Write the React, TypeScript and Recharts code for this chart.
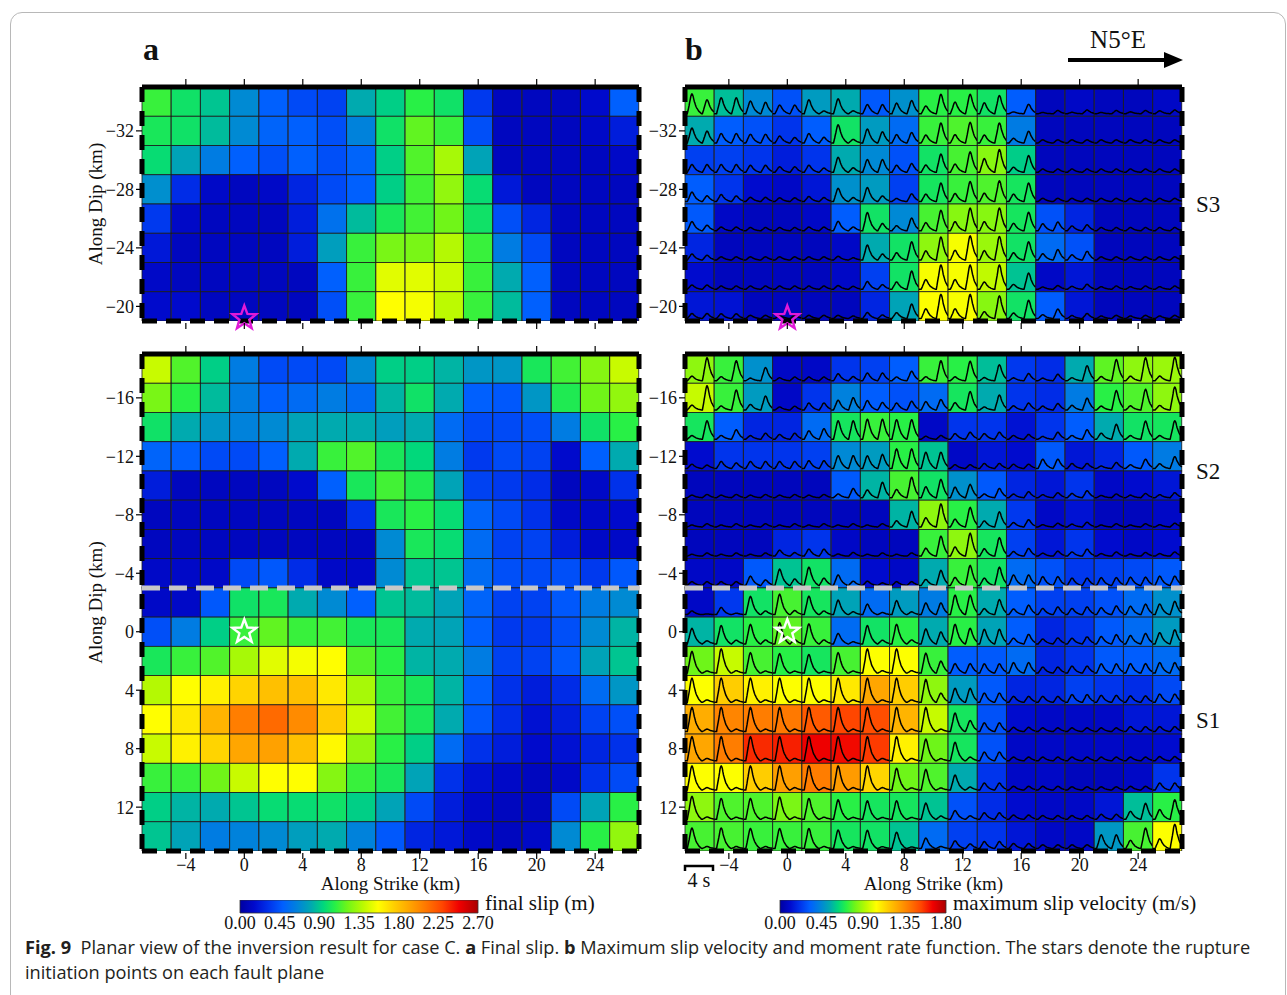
import React from "react";
import {
  Bar,
  BarChart,
  Label,
  ReferenceArea,
  ReferenceDot,
  ReferenceLine,
  XAxis,
  YAxis,
} from "recharts";

const SERIF = "'Liberation Serif', 'Times New Roman', serif";
const SANS = "'Open Sans', 'Noto Sans', sans-serif";

// subfault centres along strike (km), 2 x 2 km cells
const strikeKm = [-6, -4, -2, 0, 2, 4, 6, 8, 10, 12, 14, 16, 18, 20, 22, 24, 26];
const strikeTicks = [-4, 0, 4, 8, 12, 16, 20, 24];

// subfault centres along dip (km), top row first
const dipS3 = [-34, -32, -30, -28, -26, -24, -22, -20];
const dipS21 = [-18, -16, -14, -12, -10, -8, -6, -4, -2, 0, 2, 4, 6, 8, 10, 12, 14];
const dipTicksS3 = [-32, -28, -24, -20];
const dipTicksS21 = [-16, -12, -8, -4, 0, 4, 8, 12];

// final slip (m), segment S3
const slipS3 = [
  [1.11, 1.0, 0.89, 0.68, 0.49, 0.41, 0.38, 0.81, 0.92, 1.08, 1.0, 0.35, 0.11, 0.11, 0.11, 0.16, 0.49],
  [1.03, 1.0, 0.86, 0.68, 0.51, 0.49, 0.43, 0.65, 1.0, 1.19, 1.11, 0.43, 0.11, 0.11, 0.11, 0.14, 0.24],
  [0.97, 0.78, 0.62, 0.49, 0.43, 0.49, 0.43, 0.51, 0.92, 1.16, 1.35, 0.78, 0.11, 0.11, 0.11, 0.11, 0.14],
  [0.7, 0.3, 0.14, 0.11, 0.14, 0.27, 0.41, 0.49, 0.92, 1.13, 1.3, 0.97, 0.22, 0.11, 0.11, 0.11, 0.11],
  [0.35, 0.14, 0.11, 0.11, 0.11, 0.24, 0.57, 0.86, 1.03, 1.13, 1.22, 1.0, 0.43, 0.27, 0.11, 0.11, 0.11],
  [0.22, 0.11, 0.11, 0.11, 0.11, 0.24, 0.76, 1.11, 1.24, 1.24, 1.38, 1.11, 0.62, 0.41, 0.11, 0.11, 0.11],
  [0.14, 0.11, 0.11, 0.11, 0.11, 0.11, 0.49, 1.11, 1.49, 1.49, 1.43, 1.11, 0.81, 0.49, 0.11, 0.11, 0.11],
  [0.16, 0.16, 0.11, 0.11, 0.11, 0.11, 0.43, 1.11, 1.57, 1.54, 1.4, 1.11, 0.86, 0.49, 0.11, 0.11, 0.11],
];

// final slip (m), segments S2 (-18..-4) and S1 (-2..14)
const slipS21 = [
  [1.43, 1.16, 0.92, 0.62, 0.41, 0.41, 0.41, 0.68, 0.92, 0.92, 0.84, 0.73, 0.73, 1.03, 1.13, 1.27, 1.43],
  [1.24, 1.08, 0.86, 0.62, 0.49, 0.54, 0.62, 0.54, 0.84, 1.0, 0.81, 0.49, 0.46, 0.73, 1.05, 1.22, 1.3],
  [1.0, 0.81, 0.73, 0.65, 0.68, 0.78, 0.81, 0.81, 0.76, 0.81, 0.54, 0.41, 0.41, 0.43, 0.62, 1.0, 1.08],
  [0.51, 0.49, 0.41, 0.41, 0.49, 0.81, 1.11, 1.16, 1.03, 0.95, 0.62, 0.35, 0.41, 0.38, 0.16, 0.49, 0.81],
  [0.24, 0.11, 0.11, 0.11, 0.11, 0.16, 0.49, 1.03, 1.13, 1.05, 0.78, 0.38, 0.35, 0.3, 0.11, 0.14, 0.32],
  [0.11, 0.11, 0.11, 0.11, 0.11, 0.11, 0.11, 0.32, 1.03, 1.08, 0.97, 0.51, 0.41, 0.32, 0.14, 0.14, 0.16],
  [0.11, 0.11, 0.11, 0.11, 0.11, 0.11, 0.11, 0.11, 0.68, 1.03, 0.97, 0.54, 0.38, 0.38, 0.24, 0.14, 0.14],
  [0.14, 0.14, 0.14, 0.41, 0.46, 0.3, 0.14, 0.14, 0.68, 0.89, 0.89, 0.54, 0.43, 0.41, 0.43, 0.35, 0.46],
  [0.14, 0.14, 0.46, 1.0, 1.03, 0.81, 0.68, 0.49, 0.89, 0.86, 0.78, 0.51, 0.38, 0.38, 0.46, 0.62, 0.68],
  [0.43, 0.62, 0.92, 1.11, 1.19, 1.11, 1.13, 1.03, 1.03, 0.81, 0.78, 0.49, 0.35, 0.35, 0.43, 0.68, 0.84],
  [1.03, 1.11, 1.16, 1.35, 1.49, 1.54, 1.57, 1.16, 1.08, 0.84, 0.81, 0.62, 0.38, 0.38, 0.46, 0.78, 0.89],
  [1.38, 1.57, 1.62, 1.73, 1.81, 1.81, 1.65, 1.35, 1.11, 1.03, 0.84, 0.49, 0.32, 0.24, 0.3, 0.54, 0.73],
  [1.57, 1.65, 1.86, 2.08, 2.16, 2.03, 1.76, 1.43, 1.13, 1.03, 0.81, 0.46, 0.3, 0.19, 0.24, 0.38, 0.43],
  [1.43, 1.62, 1.73, 1.92, 1.94, 1.81, 1.59, 1.3, 1.08, 0.92, 0.54, 0.32, 0.24, 0.16, 0.19, 0.27, 0.32],
  [1.11, 1.11, 1.22, 1.43, 1.57, 1.57, 1.27, 1.11, 1.03, 0.78, 0.32, 0.19, 0.14, 0.11, 0.14, 0.32, 0.41],
  [0.92, 0.84, 0.81, 0.89, 0.97, 0.97, 1.0, 0.92, 0.78, 0.41, 0.24, 0.14, 0.11, 0.11, 0.41, 0.78, 1.08],
  [0.89, 0.78, 0.62, 0.65, 0.68, 0.76, 0.81, 0.65, 0.46, 0.27, 0.22, 0.14, 0.11, 0.14, 0.68, 1.08, 1.3],
];

// maximum slip velocity (m/s), segment S3
const velS3 = [
  [0.74, 0.58, 0.45, 0.29, 0.5, 0.54, 0.31, 0.47, 0.72, 0.72, 0.67, 0.32, 0.07, 0.09, 0.07, 0.07, 0.09],
  [0.54, 0.32, 0.29, 0.22, 0.32, 0.67, 0.5, 0.36, 0.74, 0.77, 0.74, 0.41, 0.07, 0.07, 0.07, 0.07, 0.07],
  [0.25, 0.25, 0.22, 0.16, 0.22, 0.54, 0.45, 0.29, 0.67, 0.76, 0.85, 0.61, 0.07, 0.07, 0.07, 0.07, 0.07],
  [0.32, 0.22, 0.11, 0.09, 0.14, 0.47, 0.5, 0.25, 0.68, 0.74, 0.77, 0.68, 0.07, 0.07, 0.07, 0.07, 0.07],
  [0.31, 0.09, 0.07, 0.07, 0.09, 0.32, 0.67, 0.45, 0.76, 0.85, 0.85, 0.68, 0.29, 0.18, 0.07, 0.07, 0.07],
  [0.18, 0.07, 0.07, 0.07, 0.07, 0.09, 0.54, 0.67, 0.86, 1.03, 0.88, 0.67, 0.36, 0.29, 0.07, 0.07, 0.07],
  [0.11, 0.07, 0.07, 0.07, 0.07, 0.09, 0.25, 0.67, 1.03, 1.03, 0.94, 0.59, 0.09, 0.14, 0.07, 0.07, 0.07],
  [0.14, 0.13, 0.07, 0.07, 0.07, 0.07, 0.18, 0.52, 1.04, 1.03, 0.85, 0.67, 0.32, 0.14, 0.07, 0.07, 0.07],
];

// maximum slip velocity (m/s), segments S2 and S1
const velS21 = [
  [0.86, 0.74, 0.47, 0.09, 0.09, 0.22, 0.25, 0.32, 0.74, 0.72, 0.58, 0.23, 0.2, 0.54, 0.79, 0.86, 0.88],
  [0.95, 0.74, 0.5, 0.09, 0.22, 0.43, 0.32, 0.29, 0.36, 0.68, 0.54, 0.22, 0.2, 0.41, 0.72, 0.77, 0.86],
  [0.68, 0.32, 0.18, 0.18, 0.36, 0.68, 0.74, 0.72, 0.09, 0.22, 0.22, 0.13, 0.22, 0.32, 0.54, 0.67, 0.68],
  [0.11, 0.22, 0.22, 0.22, 0.25, 0.45, 0.5, 0.72, 0.59, 0.09, 0.14, 0.11, 0.31, 0.14, 0.18, 0.31, 0.41],
  [0.07, 0.07, 0.07, 0.07, 0.07, 0.31, 0.56, 0.76, 0.67, 0.47, 0.31, 0.18, 0.14, 0.22, 0.09, 0.11, 0.14],
  [0.07, 0.07, 0.07, 0.07, 0.07, 0.07, 0.07, 0.56, 0.86, 0.72, 0.54, 0.23, 0.09, 0.13, 0.07, 0.07, 0.09],
  [0.07, 0.07, 0.07, 0.18, 0.22, 0.09, 0.07, 0.07, 0.74, 0.86, 0.68, 0.25, 0.14, 0.22, 0.11, 0.09, 0.11],
  [0.09, 0.09, 0.31, 0.59, 0.67, 0.36, 0.11, 0.09, 0.54, 0.74, 0.67, 0.36, 0.29, 0.23, 0.25, 0.27, 0.31],
  [0.09, 0.23, 0.67, 0.76, 0.68, 0.52, 0.36, 0.5, 0.41, 0.72, 0.54, 0.32, 0.25, 0.25, 0.29, 0.36, 0.47],
  [0.56, 0.67, 0.72, 0.79, 0.74, 0.36, 0.67, 0.72, 0.54, 0.72, 0.52, 0.32, 0.18, 0.22, 0.31, 0.36, 0.5],
  [0.81, 0.95, 0.76, 0.72, 0.68, 0.76, 1.04, 1.04, 0.74, 0.32, 0.31, 0.36, 0.18, 0.22, 0.31, 0.32, 0.36],
  [1.04, 1.17, 1.08, 1.04, 1.04, 1.1, 1.28, 1.17, 0.86, 0.5, 0.31, 0.18, 0.18, 0.25, 0.22, 0.2, 0.27],
  [1.26, 1.37, 1.39, 1.4, 1.48, 1.53, 1.51, 1.24, 0.95, 0.68, 0.29, 0.11, 0.09, 0.09, 0.09, 0.14, 0.14],
  [1.28, 1.39, 1.58, 1.6, 1.66, 1.64, 1.55, 1.08, 0.81, 0.68, 0.29, 0.09, 0.09, 0.09, 0.09, 0.09, 0.11],
  [1.04, 1.04, 1.17, 1.3, 1.39, 1.31, 1.15, 0.81, 0.77, 0.54, 0.22, 0.09, 0.09, 0.07, 0.07, 0.09, 0.22],
  [0.86, 0.77, 0.77, 0.83, 0.77, 0.72, 0.68, 0.68, 0.59, 0.29, 0.2, 0.11, 0.09, 0.09, 0.14, 0.58, 0.72],
  [0.76, 0.76, 0.74, 0.74, 0.74, 0.68, 0.67, 0.59, 0.36, 0.25, 0.22, 0.14, 0.09, 0.09, 0.49, 0.76, 1.04],
];

// share of the moment rate released in the late half of each subfault window (0 = early pulse only)
const lateS3 = [
  [0.35, 0.5, 0.45, 0.5, 0.1, 0.1, 0.5, 0.6, 0.8, 0.7, 0.7, 0.9, 0.8, 0.8, 0.8, 0.7, 0.6],
  [0.4, 0.5, 0.5, 0.4, 0.3, 0.1, 0.4, 0.6, 0.8, 0.8, 0.8, 0.8, 0.5, 0.5, 0.5, 0.5, 0.5],
  [0.5, 0.5, 0.5, 0.5, 0.3, 0.15, 0.5, 0.6, 0.8, 0.8, 0.7, 0.85, 0.5, 0.5, 0.5, 0.5, 0.5],
  [0.3, 0.4, 0.5, 0.5, 0.4, 0.15, 0.2, 0.8, 0.8, 0.8, 0.8, 0.8, 0.5, 0.5, 0.5, 0.5, 0.5],
  [0.3, 0.5, 0.5, 0.5, 0.5, 0.2, 0.2, 0.8, 0.8, 0.8, 0.8, 0.8, 0.6, 0.6, 0.5, 0.5, 0.5],
  [0.4, 0.5, 0.5, 0.5, 0.5, 0.3, 0.2, 0.8, 0.8, 0.8, 0.8, 0.8, 0.7, 0.7, 0.5, 0.5, 0.5],
  [0.5, 0.5, 0.5, 0.5, 0.5, 0.4, 0.3, 0.8, 0.8, 0.8, 0.85, 0.85, 0.7, 0.7, 0.6, 0.6, 0.6],
  [0.5, 0.5, 0.5, 0.5, 0.5, 0.4, 0.3, 0.8, 0.8, 0.8, 0.85, 0.85, 0.8, 0.7, 0.6, 0.6, 0.6],
];

const lateS21 = [
  [0.9, 0.9, 0.9, 0.6, 0.5, 0.3, 0.5, 0.8, 0.9, 0.9, 0.9, 0.8, 0.8, 0.9, 0.9, 0.9, 0.9],
  [0.9, 0.9, 0.8, 0.6, 0.5, 0.6, 0.4, 0.6, 0.6, 0.8, 0.9, 0.7, 0.7, 0.8, 0.9, 0.9, 0.9],
  [0.9, 0.8, 0.7, 0.6, 0.6, 0.5, 0.5, 0.5, 0.6, 0.6, 0.6, 0.6, 0.8, 0.8, 0.8, 0.9, 0.9],
  [0.4, 0.4, 0.5, 0.5, 0.5, 0.5, 0.55, 0.5, 0.5, 0.5, 0.5, 0.5, 0.5, 0.5, 0.8, 0.8, 0.8],
  [0.6, 0.6, 0.6, 0.6, 0.6, 0.8, 0.75, 0.8, 0.7, 0.6, 0.8, 0.7, 0.7, 0.7, 0.7, 0.7, 0.7],
  [0.7, 0.7, 0.7, 0.7, 0.7, 0.7, 0.7, 0.8, 0.8, 0.8, 0.8, 0.7, 0.7, 0.7, 0.7, 0.7, 0.7],
  [0.7, 0.7, 0.7, 0.3, 0.5, 0.7, 0.7, 0.7, 0.8, 0.8, 0.8, 0.7, 0.7, 0.7, 0.7, 0.7, 0.7],
  [0.5, 0.5, 0.3, 0.2, 0.2, 0.2, 0.3, 0.5, 0.8, 0.8, 0.8, 0.5, 0.5, 0.5, 0.5, 0.5, 0.5],
  [0.1, 0.1, 0.1, 0.1, 0.1, 0.1, 0.1, 0.1, 0.5, 0.5, 0.8, 0.7, 0.6, 0.6, 0.6, 0.6, 0.6],
  [0.1, 0.1, 0.1, 0.1, 0.1, 0.1, 0.1, 0.1, 0.4, 0.4, 0.5, 0.7, 0.6, 0.6, 0.6, 0.6, 0.6],
  [0.05, 0.05, 0.05, 0.05, 0.05, 0.05, 0.05, 0.05, 0.3, 0.5, 0.5, 0.5, 0.5, 0.5, 0.5, 0.5, 0.5],
  [0.05, 0.05, 0.05, 0.05, 0.05, 0.05, 0.05, 0.05, 0.2, 0.5, 0.5, 0.5, 0.5, 0.5, 0.5, 0.5, 0.5],
  [0.05, 0.05, 0.05, 0.05, 0.05, 0.05, 0.05, 0.05, 0.05, 0.3, 0.5, 0.5, 0.5, 0.5, 0.5, 0.5, 0.5],
  [0.05, 0.05, 0.05, 0.05, 0.05, 0.05, 0.05, 0.05, 0.05, 0.1, 0.5, 0.5, 0.5, 0.5, 0.5, 0.5, 0.5],
  [0.05, 0.05, 0.05, 0.05, 0.05, 0.05, 0.05, 0.05, 0.05, 0.1, 0.5, 0.5, 0.5, 0.5, 0.5, 0.5, 0.5],
  [0.05, 0.05, 0.05, 0.05, 0.05, 0.05, 0.05, 0.05, 0.1, 0.2, 0.5, 0.5, 0.5, 0.5, 0.5, 0.75, 0.75],
  [0.05, 0.05, 0.05, 0.05, 0.05, 0.05, 0.05, 0.05, 0.1, 0.3, 0.5, 0.5, 0.5, 0.5, 0.5, 0.8, 0.8],
];

const slipMax = 2.7;
const velMax = 1.8;
const slipTicks = [0, 0.45, 0.9, 1.35, 1.8, 2.25, 2.7];
const velTicks = [0, 0.45, 0.9, 1.35, 1.8];

// rainbow palette used by both colour scales
const COLOR_STOPS: [number, number, number, number][] = [
  [0.0, 0, 0, 160],
  [0.06, 0, 10, 205],
  [0.12, 0, 50, 235],
  [0.18, 0, 95, 255],
  [0.24, 0, 130, 220],
  [0.3, 0, 170, 175],
  [0.35, 0, 215, 125],
  [0.4, 40, 240, 70],
  [0.45, 110, 245, 25],
  [0.52, 190, 250, 0],
  [0.58, 255, 255, 0],
  [0.65, 255, 205, 0],
  [0.72, 255, 160, 0],
  [0.78, 255, 120, 0],
  [0.85, 255, 70, 0],
  [0.92, 240, 0, 0],
  [1.0, 170, 0, 0],
];

function colormap(t: number): string {
  const v = Math.max(0, Math.min(1, t));
  for (let i = 1; i < COLOR_STOPS.length; i++) {
    const [t1, r1, g1, b1] = COLOR_STOPS[i];
    if (v <= t1) {
      const [t0, r0, g0, b0] = COLOR_STOPS[i - 1];
      const k = (v - t0) / (t1 - t0);
      return `rgb(${Math.round(r0 + (r1 - r0) * k)},${Math.round(g0 + (g1 - g0) * k)},${Math.round(b0 + (b1 - b0) * k)})`;
    }
  }
  return "rgb(170,0,0)";
}

const minus = (v: number) => (v < 0 ? `\u2212${Math.abs(v)}` : `${v}`);

function starPath(cx: number, cy: number, R: number, r: number) {
  const pts: string[] = [];
  for (let i = 0; i < 10; i++) {
    const ang = -Math.PI / 2 + (i * Math.PI) / 5;
    const rad = i % 2 === 0 ? R : r;
    pts.push(`${(cx + rad * Math.cos(ang)).toFixed(1)},${(cy + rad * Math.sin(ang)).toFixed(1)}`);
  }
  return `M${pts.join("L")}Z`;
}

// glyph of one moment-rate pulse: (offset in cell widths, relative height)
const PULSE: [number, number][] = [
  [-0.16, 0],
  [-0.08, 0.55],
  [-0.03, 0.94],
  [0, 1],
  [0.03, 0.94],
  [0.08, 0.62],
  [0.15, 0.32],
  [0.24, 0.12],
  [0.33, 0],
];

function pulse(u: number) {
  if (u <= PULSE[0][0] || u >= PULSE[PULSE.length - 1][0]) return 0;
  for (let i = 1; i < PULSE.length; i++) {
    const [u1, a1] = PULSE[i];
    const [u0, a0] = PULSE[i - 1];
    if (u <= u1) return a0 + ((a1 - a0) * (u - u0)) / (u1 - u0);
  }
  return 0;
}

function wavePath(x: number, w: number, yBase: number, aE: number, aL: number) {
  const n = 50;
  let d = "";
  for (let i = 0; i <= n; i++) {
    const u = i / n;
    const val = aE * pulse(u - 0.24) + aL * pulse(u - 0.76);
    d += `${i === 0 ? "M" : "L"}${(x + u * w).toFixed(1)},${(yBase - val).toFixed(1)}`;
  }
  return d;
}

const PLOT_W = 497;
const KM_PX = PLOT_W / 34;
const Y_W = 60;
const R_W = 10;
const R_M = 50;
const TOP_H = 10;

const frameDash = { stroke: "#000", strokeWidth: 5, strokeDasharray: "15 9" };

function strikeTick(labels: boolean, up: boolean) {
  return (props: any) => {
    const { x, y, payload } = props;
    if (!strikeTicks.includes(payload.value)) return <g />;
    return (
      <g>
        <line x1={x} x2={x} y1={up ? y - 2 : y + 2} y2={up ? y - 8 : y + 8} stroke="#000" strokeWidth={1.2} />
        {labels && (
          <text x={x} y={y + 20} textAnchor="middle" fontFamily={SERIF} fontSize={18} fill="#111">
            {minus(payload.value)}
          </text>
        )}
      </g>
    );
  };
}

type PanelProps = {
  left: number;
  top: number;
  rows: number[];
  edgeTop: number;
  edgeBottom: number;
  dipTicks: number[];
  values: number[][];
  vmax: number;
  late?: number[][];
  starY: number;
  starColor: string;
  divider?: number;
  segments?: { y1: number; y2: number; name: string }[];
  xLabels: boolean;
  yLabel: boolean;
};

function FaultPanel(p: PanelProps) {
  const plotH = Math.round((p.edgeBottom - p.edgeTop) * KM_PX);
  const bottomH = p.xLabels ? 45 : 30;
  const width = Y_W + PLOT_W + R_W + R_M;
  const height = TOP_H + plotH + bottomH;
  const data = strikeKm.map((x) => {
    const d: Record<string, number> = { x, base: p.edgeTop };
    p.rows.forEach((_, r) => {
      d[`r${r}`] = 2;
    });
    return d;
  });

  const cellShape = (r: number) => (props: any) => {
    const { x, y, width: w, height: h0, payload } = props;
    const c = strikeKm.indexOf(payload.x);
    const v = p.values[r][c];
    const top = Math.min(y, y + h0);
    const h = Math.abs(h0);
    let wave = null;
    if (p.late) {
      const f = p.late[r][c];
      const amp = Math.min(h - 5, 1.5 + 25 * v);
      const aE = amp * Math.min(1, 2 * (1 - f));
      const aL = amp * Math.min(1, 2 * f);
      wave = (
        <path
          d={wavePath(x, w, top + h - 2.5, aE, aL)}
          fill="none"
          stroke="#000"
          strokeWidth={1.5}
          strokeLinejoin="round"
        />
      );
    }
    return (
      <g>
        <rect x={x} y={top} width={w} height={h} fill={colormap(v / p.vmax)} stroke="#1a1a1a" strokeWidth={0.8} />
        {wave}
      </g>
    );
  };

  return (
    <div style={{ position: "absolute", left: p.left, top: p.top }}>
      <BarChart
        width={width}
        height={height}
        data={data}
        margin={{ top: 0, right: R_M, bottom: 0, left: 0 }}
        barCategoryGap={0}
        barGap={0}
      >
        <Bar dataKey="base" stackId="s" xAxisId="b" yAxisId="l" fill="none" isAnimationActive={false} shape={() => <g />} />
        {p.rows.map((_, r) => (
          <Bar
            key={r}
            dataKey={`r${r}`}
            stackId="s"
            xAxisId="b"
            yAxisId="l"
            isAnimationActive={false}
            shape={cellShape(r)}
          />
        ))}
        {p.divider !== undefined && (
          <ReferenceLine
            y={p.divider}
            xAxisId="b"
            yAxisId="l"
            stroke="#c8c8c8"
            strokeWidth={5}
            strokeDasharray="18 9"
          />
        )}
        {p.segments?.map((s) => (
          <ReferenceArea
            key={s.name}
            y1={s.y1}
            y2={s.y2}
            xAxisId="b"
            yAxisId="l"
            fill="none"
            fillOpacity={0}
            stroke="none"
            ifOverflow="visible"
            label={{ value: s.name, position: "right", offset: 14, fontSize: 23, fontFamily: SERIF, fill: "#111" }}
          />
        ))}
        <ReferenceDot
          x={0}
          y={p.starY}
          xAxisId="b"
          yAxisId="l"
          ifOverflow="visible"
          shape={(s: any) => (
            <path d={starPath(s.cx, s.cy, 12.5, 5.2)} fill="none" stroke={p.starColor} strokeWidth={2.4} />
          )}
        />
        <XAxis
          xAxisId="b"
          dataKey="x"
          type="category"
          interval={0}
          height={bottomH}
          tickSize={0}
          tickMargin={0}
          tickLine={false}
          axisLine={frameDash}
          tick={strikeTick(p.xLabels, false)}
          label={
            p.xLabels ? (
              <Label
                content={({ viewBox }: any) => (
                  <text
                    x={viewBox.x + viewBox.width / 2}
                    y={viewBox.y + 39}
                    textAnchor="middle"
                    fontFamily={SERIF}
                    fontSize={19}
                    fill="#111"
                  >
                    Along Strike (km)
                  </text>
                )}
              />
            ) : undefined
          }
        />
        <XAxis
          xAxisId="t"
          dataKey="x"
          type="category"
          orientation="top"
          interval={0}
          height={TOP_H}
          tickSize={0}
          tickMargin={0}
          tickLine={false}
          axisLine={{ stroke: "#000", strokeWidth: 5 }}
          tick={strikeTick(false, true)}
        />
        <YAxis
          yAxisId="l"
          type="number"
          domain={[p.edgeTop, p.edgeBottom]}
          allowDataOverflow
          reversed
          ticks={p.dipTicks}
          interval={0}
          width={Y_W}
          tickSize={6}
          tickMargin={2}
          tickLine={{ stroke: "#000", strokeWidth: 1.2 }}
          axisLine={frameDash}
          tickFormatter={minus}
          tick={{ fontFamily: SERIF, fontSize: 18, fill: "#111" }}
          label={
            p.yLabel ? (
              <Label
                content={({ viewBox }: any) => {
                  const cx = viewBox.x + 13;
                  const cy = viewBox.y + viewBox.height / 2;
                  return (
                    <text
                      x={cx}
                      y={cy}
                      transform={`rotate(-90 ${cx} ${cy})`}
                      textAnchor="middle"
                      dominantBaseline="central"
                      fontFamily={SERIF}
                      fontSize={19}
                      fill="#111"
                    >
                      Along Dip (km)
                    </text>
                  );
                }}
              />
            ) : undefined
          }
        />
        <YAxis
          yAxisId="r"
          orientation="right"
          type="number"
          domain={[p.edgeTop, p.edgeBottom]}
          allowDataOverflow
          reversed
          ticks={p.dipTicks}
          interval={0}
          width={R_W}
          tickSize={6}
          tick={false}
          tickLine={{ stroke: "#000", strokeWidth: 1.2 }}
          axisLine={frameDash}
        />
      </BarChart>
    </div>
  );
}

function ColorBar(props: { left: number; top: number; width: number; vmax: number; ticks: number[]; id: string }) {
  const data = [{ name: props.id, value: props.vmax }];
  return (
    <div style={{ position: "absolute", left: props.left - 20, top: props.top }}>
      <BarChart
        width={props.width + 40}
        height={40}
        data={data}
        layout="vertical"
        margin={{ top: 0, right: 20, bottom: 0, left: 20 }}
        barCategoryGap={0}
      >
        <defs>
          <linearGradient id={props.id} x1="0" y1="0" x2="1" y2="0">
            {COLOR_STOPS.map(([t, r, g, b]) => (
              <stop key={t} offset={`${t * 100}%`} stopColor={`rgb(${r},${g},${b})`} />
            ))}
          </linearGradient>
        </defs>
        <XAxis
          type="number"
          domain={[0, props.vmax]}
          ticks={props.ticks}
          interval={0}
          tickFormatter={(v: number) => v.toFixed(2)}
          axisLine={false}
          tickLine={false}
          tickSize={0}
          tickMargin={3}
          height={27}
          tick={{ fontFamily: SERIF, fontSize: 18, fill: "#111" }}
        />
        <YAxis type="category" dataKey="name" hide />
        <Bar dataKey="value" fill={`url(#${props.id})`} stroke="#333" strokeWidth={0.8} isAnimationActive={false} />
      </BarChart>
    </div>
  );
}

const textStyle = (left: number, top: number, size: number): React.CSSProperties => ({
  position: "absolute",
  left,
  top,
  fontFamily: SERIF,
  fontSize: size,
  lineHeight: 1,
  color: "#111",
  whiteSpace: "nowrap",
});

export default function App() {
  return (
    <div style={{ position: "absolute", left: 0, top: 0, width: 1287, height: 995, background: "#fff", overflow: "hidden" }}>
      <div
        style={{
          position: "absolute",
          left: 10,
          top: 12,
          width: 1274,
          height: 1000,
          border: "1px solid #b8b8b8",
          borderRadius: 12,
        }}
      />
      <svg width={1287} height={90} style={{ position: "absolute", left: 0, top: 0 }}>
        <text x={143} y={60} fontFamily={SERIF} fontWeight="bold" fontSize={32} fill="#111">
          a
        </text>
        <text x={685} y={60} fontFamily={SERIF} fontWeight="bold" fontSize={32} fill="#111">
          b
        </text>
        <text x={1118} y={48} textAnchor="middle" fontFamily={SERIF} fontSize={25} fill="#111">
          N5°E
        </text>
        <line x1={1068} x2={1168} y1={60} y2={60} stroke="#000" strokeWidth={4} />
        <path d="M1164,52 L1183,60 L1164,68 Z" fill="#000" />
      </svg>

      <FaultPanel
        left={82}
        top={77}
        rows={dipS3}
        edgeTop={-35}
        edgeBottom={-19}
        dipTicks={dipTicksS3}
        values={slipS3}
        vmax={slipMax}
        starY={-19.2}
        starColor="#e01ad8"
        xLabels={false}
        yLabel
      />
      <FaultPanel
        left={82}
        top={344}
        rows={dipS21}
        edgeTop={-19}
        edgeBottom={15}
        dipTicks={dipTicksS21}
        values={slipS21}
        vmax={slipMax}
        starY={0}
        starColor="#ffffff"
        divider={-3}
        xLabels
        yLabel
      />
      <FaultPanel
        left={625}
        top={77}
        rows={dipS3}
        edgeTop={-35}
        edgeBottom={-19}
        dipTicks={dipTicksS3}
        values={velS3}
        vmax={velMax}
        late={lateS3}
        starY={-19.2}
        starColor="#e01ad8"
        segments={[{ y1: -35, y2: -19, name: "S3" }]}
        xLabels={false}
        yLabel={false}
      />
      <FaultPanel
        left={625}
        top={344}
        rows={dipS21}
        edgeTop={-19}
        edgeBottom={15}
        dipTicks={dipTicksS21}
        values={velS21}
        vmax={velMax}
        late={lateS21}
        starY={0}
        starColor="#ffffff"
        divider={-3}
        segments={[
          { y1: -19, y2: -3, name: "S2" },
          { y1: -3, y2: 15, name: "S1" },
        ]}
        xLabels
        yLabel={false}
      />

      <svg width={60} height={40} style={{ position: "absolute", left: 670, top: 855 }}>
        <path d="M15,16 V11 H43 V16" fill="none" stroke="#000" strokeWidth={2.5} />
        <text x={29} y={32} textAnchor="middle" fontFamily={SERIF} fontSize={20} fill="#111">
          4 s
        </text>
      </svg>

      <ColorBar left={240} top={900} width={238} vmax={slipMax} ticks={slipTicks} id="cbSlip" />
      <div style={textStyle(485, 893, 21)}>final slip (m)</div>
      <ColorBar left={780} top={900} width={166} vmax={velMax} ticks={velTicks} id="cbVel" />
      <div style={textStyle(953, 893, 21)}>maximum slip velocity (m/s)</div>

      <div
        style={{
          position: "absolute",
          left: 25,
          top: 935,
          fontFamily: SANS,
          fontSize: 18.2,
          lineHeight: "25px",
          color: "#231f20",
          whiteSpace: "nowrap",
        }}
      >
        <b>Fig. 9</b>&nbsp;&nbsp;Planar view of the inversion result for case C. <b>a</b> Final slip. <b>b</b> Maximum
        slip velocity and moment rate function. The stars denote the rupture
        <br />
        initiation points on each fault plane
      </div>
    </div>
  );
}
